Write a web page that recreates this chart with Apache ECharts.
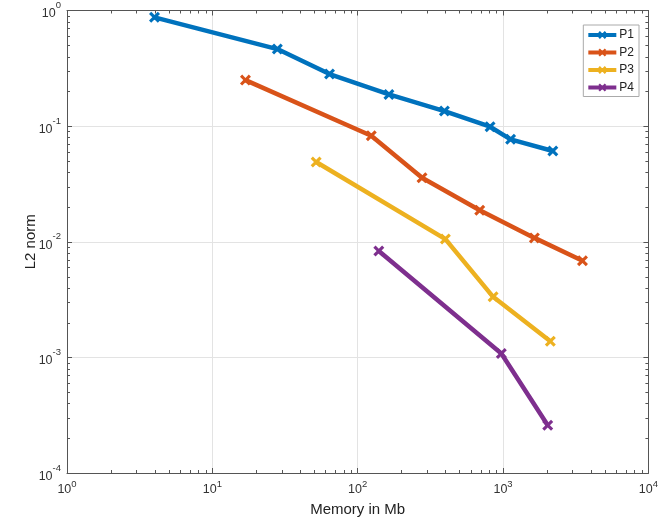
<!DOCTYPE html>
<html>
<head>
<meta charset="utf-8">
<script src="https://cdn.jsdelivr.net/npm/echarts@6/dist/echarts.min.js"></script>
<style>html,body{margin:0;padding:0;background:#fff}#c{width:661px;height:524px}</style>
</head>
<body>
<div id="c"></div>
<script>
const seriesNames = ['P1', 'P2', 'P3', 'P4'];
const p1Mem = [4, 28, 64, 164, 395, 814, 1127, 2200];
const p1Err = [0.873, 0.464, 0.282, 0.188, 0.135, 0.0988, 0.0769, 0.0609];
const p2Mem = [16.9, 124, 277, 691, 1643, 3520];
const p2Err = [0.250, 0.0826, 0.0358, 0.0187, 0.0108, 0.00685];
const p3Mem = [51.8, 401, 854, 2115];
const p3Err = [0.0489, 0.01055, 0.00334, 0.00138];
const p4Mem = [139.7, 973, 2029];
const p4Err = [0.00831, 0.00108, 0.000259];
const colors = ['#0072BD', '#D95319', '#EDB120', '#7E2F8E'];

const xs = [p1Mem, p2Mem, p3Mem, p4Mem];
const ys = [p1Err, p2Err, p3Err, p4Err];

const xMinor = [];
for (let k = 0; k <= 3; k++) for (let m = 2; m <= 9; m++) xMinor.push(m * Math.pow(10, k));
const yMinor = [];
for (let k = -4; k <= -1; k++) for (let m = 2; m <= 9; m++) yMinor.push(m * Math.pow(10, k));

const font = '"Liberation Sans", Arial, Helvetica, sans-serif';
const xMark = 'path://M2,0 L5,3 L8,0 L10,2 L7,5 L10,8 L8,10 L5,7 L2,10 L0,8 L3,5 L0,2 Z';

function powLabel(v) {
  const e = Math.round(Math.log10(v));
  return '{b|10}{s|' + e + '}';
}
const richX = {
  b: { fontSize: 12.5, fontFamily: font, color: '#333', verticalAlign: 'bottom' },
  s: { fontSize: 9.5, fontFamily: font, color: '#333', verticalAlign: 'top', padding: [0, 0, 7, 0] }
};
const richY = {
  b: { fontSize: 12.5, fontFamily: font, color: '#333', verticalAlign: 'bottom' },
  s: { fontSize: 9.5, fontFamily: font, color: '#333', verticalAlign: 'top', padding: [0, 0, 10, 0] }
};

const axisCommon = {
  axisLine: { show: true, lineStyle: { color: '#555', width: 1 } },
  axisTick: { show: true, inside: true, length: 5, lineStyle: { color: '#555' } },
  minorTick: { show: false },
  splitLine: { show: false }
};

const lineSeries = seriesNames.map((n, i) => ({
  name: n,
  type: 'line',
  xAxisIndex: 0,
  yAxisIndex: 0,
  data: xs[i].map((x, j) => [x, ys[i][j]]),
  symbol: xMark,
  symbolSize: 11,
  showAllSymbol: true,
  color: colors[i],
  lineStyle: { width: 4.5, color: colors[i] },
  itemStyle: { color: colors[i] },
  emphasis: { disabled: true },
  z: 3
}));

const tickSeries = {
  type: 'custom',
  xAxisIndex: 0,
  yAxisIndex: 0,
  silent: true,
  data: [[1, 1]],
  z: 2,
  renderItem: function (params, api) {
    const cs = params.coordSys;
    const top = cs.y, bottom = cs.y + cs.height, left = cs.x, right = cs.x + cs.width;
    const ch = [];
    const st = { stroke: '#555', lineWidth: 1 };
    xMinor.forEach(v => {
      const px = Math.round(api.coord([v, 1])[0]) + 0.5;
      ch.push({ type: 'line', shape: { x1: px, y1: bottom, x2: px, y2: bottom - 3 }, style: st });
      ch.push({ type: 'line', shape: { x1: px, y1: top, x2: px, y2: top + 3 }, style: st });
    });
    yMinor.forEach(v => {
      const py = Math.round(api.coord([1, v])[1]) + 0.5;
      ch.push({ type: 'line', shape: { x1: left, y1: py, x2: left + 3, y2: py }, style: st });
      ch.push({ type: 'line', shape: { x1: right, y1: py, x2: right - 3, y2: py }, style: st });
    });
    return { type: 'group', children: ch };
  }
};

const chart = echarts.init(document.getElementById('c'), null, { renderer: 'canvas' });
chart.setOption({
  animation: false,
  backgroundColor: '#fff',
  grid: { left: 67, right: 10, top: 10.5, bottom: 51, containLabel: false },
  legend: {
    data: seriesNames,
    orient: 'vertical',
    right: 22,
    top: 25,
    itemWidth: 28,
    itemHeight: 10,
    itemGap: 5.5,
    padding: [4, 5, 3, 3],
    backgroundColor: '#fff',
    borderColor: '#aaa',
    borderWidth: 1,
    borderRadius: 0,
    lineStyle: { width: 4 },
    textStyle: { fontSize: 12, lineHeight: 12, fontFamily: font, color: '#222', padding: [0, 0, 0, -2] }
  },
  xAxis: [
    Object.assign({}, axisCommon, {
      type: 'log', logBase: 10, min: 1, max: 10000,
      name: 'Memory in Mb', nameLocation: 'middle', nameGap: 29,
      nameMoveOverlap: false,
      nameTextStyle: { fontSize: 15, fontFamily: font, color: '#222' },
      axisLabel: { formatter: powLabel, rich: richX, margin: 6 },
      splitLine: { show: true, lineStyle: { color: '#e3e3e3', width: 1 } }
    }),
    Object.assign({}, axisCommon, {
      type: 'log', logBase: 10, min: 1, max: 10000, position: 'top',
      axisLabel: { show: false }
    })
  ],
  yAxis: [
    Object.assign({}, axisCommon, {
      type: 'log', logBase: 10, min: 0.0001, max: 1,
      name: 'L2 norm', nameLocation: 'middle', nameGap: 29,
      nameMoveOverlap: false,
      nameTextStyle: { fontSize: 15, fontFamily: font, color: '#222' },
      axisLabel: { formatter: powLabel, rich: richY, margin: 6 },
      splitLine: { show: true, lineStyle: { color: '#e3e3e3', width: 1 } }
    }),
    Object.assign({}, axisCommon, {
      type: 'log', logBase: 10, min: 0.0001, max: 1, position: 'right',
      axisLabel: { show: false }
    })
  ],
  series: [tickSeries].concat(lineSeries)
});
</script>
</body>
</html>
